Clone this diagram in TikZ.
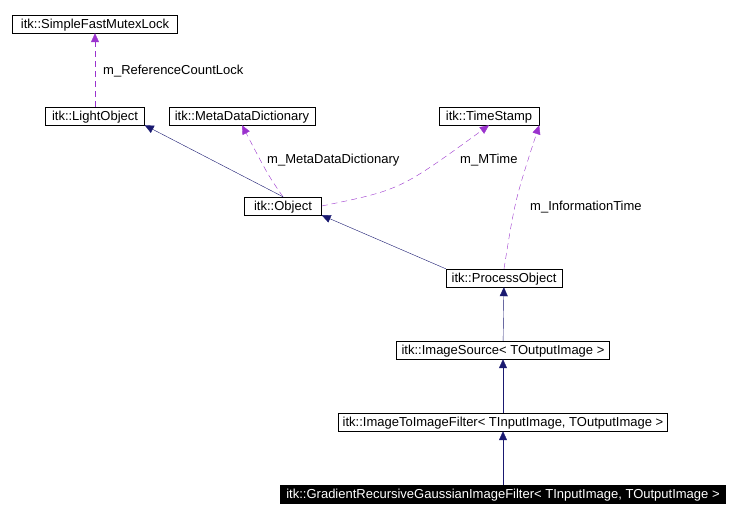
\documentclass[tikz,border=0pt]{standalone}
\usepackage{fontspec}
\setmainfont{Liberation Sans}
\usetikzlibrary{arrows.meta}
\definecolor{navy}{RGB}{25,25,112}
\definecolor{orchid}{RGB}{154,50,205}
\begin{document}
\begin{tikzpicture}[x=1pt,y=-1pt,
  cls/.style={draw,inner sep=0pt,minimum height=18pt,text depth=0pt,font=\fontsize{13}{13}\selectfont},
  inh/.style={navy,-{Triangle[length=9pt,width=8pt]}},
  use/.style={orchid,dash pattern=on 6pt off 4pt,-{Triangle[length=9pt,width=8pt]}},
  lbl/.style={font=\fontsize{13}{13}\selectfont,inner sep=0pt}]
  \useasboundingbox (0,0) rectangle (740,518);
  \node[cls,minimum width=165pt] (mutex) at (95,24) {itk::SimpleFastMutexLock};
  \node[cls,minimum width=99pt] (light) at (95,116) {itk::LightObject};
  \node[cls,minimum width=146pt] (meta) at (242,116) {itk::MetaDataDictionary};
  \node[cls,minimum width=100pt] (stamp) at (489,116) {itk::TimeStamp};
  \node[cls,minimum width=77pt] (object) at (283,206) {itk::Object};
  \node[cls,minimum width=116pt] (process) at (504,278) {itk::ProcessObject};
  \node[cls,minimum width=213pt] (source) at (503,350) {itk::ImageSource< TOutputImage >};
  \node[cls,minimum width=329pt] (filter) at (503,422) {itk::ImageToImageFilter< TInputImage, TOutputImage >};
  \node[cls,minimum width=445pt,fill=black,text=white] (grad) at (503,494) {itk::GradientRecursiveGaussianImageFilter< TInputImage, TOutputImage >};
  % members
  \draw[use] (light) -- (mutex);
  \node[lbl,anchor=west] at (103,71) {m\_ReferenceCountLock};
  \draw[use] (object.north) .. controls (268,175) .. (meta.south);
  \node[lbl,anchor=west] at (267,160) {m\_MetaDataDictionary};
  \draw[use] (object.east) .. controls (400,190) .. (stamp.south);
  \node[lbl,anchor=west] at (460,160) {m\_MTime};
  \draw[use] (process.north) .. controls (515,200) .. (stamp.south east);
  \node[lbl,anchor=west] at (530,207) {m\_InformationTime};
  % bases
  \draw[inh] (object.north) -- (light.south east);
  \draw[inh] (process.north west) -- (object.south east);
  \draw[inh] (source) -- (process);
  \draw[inh] (filter) -- (source);
  \draw[inh] (grad) -- (filter);
\end{tikzpicture}
\end{document}
